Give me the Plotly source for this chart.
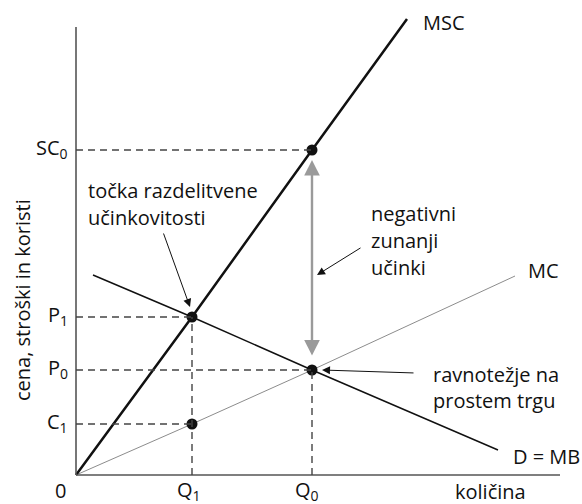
import plotly.graph_objects as go

# ---- data (units) ----
Q1, Q0 = 11.6, 23.6
P1, P0, C1, SC0 = 15.8, 10.5, 5.1, 32.5
X_AXIS_LEN, Y_AXIS_LEN = 48.4, 44.8

msc_x = [0, Q1, Q0, 33.1]
msc_y = [0, P1, SC0, 45.6]
mc_x = [0, Q1, Q0, 43.9]
mc_y = [0, C1, P0, 19.9]
d_x = [1.7, Q1, Q0, 42.2]
d_y = [20.0, P1, P0, 2.5]

pts_x = [Q1, Q1, Q0, Q0]
pts_y = [P1, C1, P0, SC0]

FONT = "Open Sans"
FS = 20
TXT_COLOR = "#111"

fig = go.Figure()
fig.add_trace(go.Scatter(x=mc_x, y=mc_y, mode="lines", line=dict(color="#8c8c8c", width=1)))
fig.add_trace(go.Scatter(x=d_x, y=d_y, mode="lines", line=dict(color="#111", width=1.5)))
fig.add_trace(go.Scatter(x=msc_x, y=msc_y, mode="lines", line=dict(color="#111", width=2.5)))

shapes = []
# axes
shapes.append(dict(type="line", x0=0, y0=0, x1=X_AXIS_LEN, y1=0, line=dict(color="#555", width=1.6)))
shapes.append(dict(type="line", x0=0, y0=0, x1=0, y1=Y_AXIS_LEN, line=dict(color="#555", width=1.6)))
dash = dict(color="#444", width=1.4, dash="7px,5px")
for yv, xv in [(SC0, Q0), (P1, Q1), (P0, Q0), (C1, Q1)]:
    shapes.append(dict(type="line", x0=0, y0=yv, x1=xv, y1=yv, line=dash))
for xv, yv in [(Q1, P1), (Q0, P0)]:
    shapes.append(dict(type="line", x0=xv, y0=0, x1=xv, y1=yv, line=dash))

fig.add_trace(go.Scatter(x=pts_x, y=pts_y, mode="markers", marker=dict(color="#111", size=11)))

ann = []
def txt(x, y, t, xanchor="center", xref="x", yref="y"):
    ann.append(dict(x=x, y=y, text=t, showarrow=False, xanchor=xanchor, yanchor="middle",
                    xref=xref, yref=yref, font=dict(family=FONT, size=FS, color=TXT_COLOR)))

# left tick labels
for yv, t in [(SC0, "SC<sub>0</sub>"), (P1, "P<sub>1</sub>"), (P0, "P<sub>0</sub>"), (C1, "C<sub>1</sub>")]:
    txt(-0.6, yv + 0.2, t, xanchor="right")
# bottom tick labels
for xv, t in [(-1.6, "0"), (Q1 - 0.3, "Q<sub>1</sub>"), (Q0 - 0.5, "Q<sub>0</sub>")]:
    txt(xv, -1.5, t)
txt(41.4, -1.6, "količina")
txt(47.0, 1.9, "D = MB")
txt(36.8, 45.3, "MSC")
txt(46.7, 20.5, "MC")
# multi-line labels
for i, t in enumerate(["točka razdelitvene", "učinkovitosti"]):
    txt(1.0, 28.5 - 2.7 * i, t, xanchor="left")
for i, t in enumerate(["negativni", "zunanji", "učinki"]):
    txt(29.3, 26.2 - 2.7 * i, t, xanchor="left")
for i, t in enumerate(["ravnotežje na", "prostem trgu"]):
    txt(35.5, 10.1 - 2.6 * i, t, xanchor="left")

# y axis title
ann.append(dict(x=-5.4, y=17.5, text="cena, stroški in koristi", showarrow=False, textangle=-90,
                xanchor="center", yanchor="middle", font=dict(family=FONT, size=FS, color=TXT_COLOR)))

# black pointer arrows
def arrow(tx, ty, hx, hy):
    ann.append(dict(x=hx, y=hy, ax=tx, ay=ty, xref="x", yref="y", axref="x", ayref="y",
                    text="", showarrow=True, arrowhead=2, arrowsize=1.6, arrowwidth=1,
                    arrowcolor="#111"))
arrow(8.7, 24.3, Q1 - 0.2, P1 + 1.0)
arrow(28.6, 22.8, Q0 + 0.5, 20.0)
arrow(33.9, 10.2, Q0 + 1.0, P0)

# gray double arrow (external cost)
ann.append(dict(x=Q0, y=SC0 - 1.0, ax=Q0, ay=P0 + 1.3, xref="x", yref="y", axref="x", ayref="y",
                text="", showarrow=True, arrowhead=2, startarrowhead=2, arrowside="end+start",
                arrowsize=1.3, startarrowsize=1.3, arrowwidth=2.4, arrowcolor="#9a9a9a"))

fig.update_layout(
    width=582, height=504, autosize=False,
    margin=dict(l=0, r=0, t=0, b=0),
    paper_bgcolor="white", plot_bgcolor="white",
    showlegend=False,
    xaxis=dict(range=[-7.6, 50.6], visible=False, fixedrange=True),
    yaxis=dict(range=[-2.9, 47.5], visible=False, fixedrange=True),
    shapes=shapes, annotations=ann,
)
fig.write_html("out.html", config={"displayModeBar": False},
               post_script="document.body.style.margin='0';document.body.style.padding='0';")
